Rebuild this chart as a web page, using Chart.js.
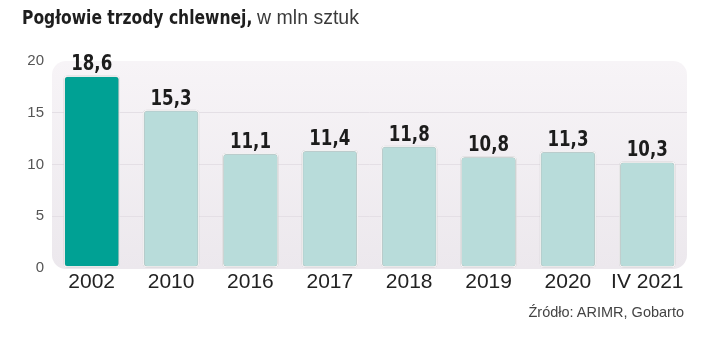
<!DOCTYPE html>
<html>
<head>
<meta charset="utf-8">
<script src="https://cdn.jsdelivr.net/npm/chart.js@4/dist/chart.umd.min.js"></script>
<style>
  html, body { margin: 0; padding: 0; background: #ffffff; }
  #wrap { position: relative; width: 720px; height: 337px; overflow: hidden; }
  #c { position: absolute; left: 0; top: 0; }
  #title { position: absolute; left: 22px; top: 6px; white-space: nowrap; }
  #title b { display: inline-block; font-family: "DejaVu Sans Condensed", "DejaVu Sans", sans-serif; font-weight: bold; font-size: 19px; color: #1e1e1e; transform: scaleX(0.91); transform-origin: left center; margin-right: -22px; }
  #title span { display: inline-block; font-family: "Liberation Sans", sans-serif; font-weight: normal; color: #3a3a3a; font-size: 19.5px; margin-left: 4px; }
  #source { position: absolute; right: 36px; top: 304px; font-family: "Liberation Sans", sans-serif; font-size: 14.5px; color: #444; white-space: nowrap; }
</style>
</head>
<body>
<div id="wrap">
  <canvas id="c" width="720" height="337"></canvas>
  <div id="title"><b>Pogłowie trzody chlewnej,</b><span>w mln sztuk</span></div>
  <div id="source">Źródło: ARIMR, Gobarto</div>
</div>
<script>
const categories = ['2002', '2010', '2016', '2017', '2018', '2019', '2020', 'IV 2021'];
const values = [18.6, 15.3, 11.1, 11.4, 11.8, 10.8, 11.3, 10.3];
const yTicks = [0, 5, 10, 15, 20];
const barColors = ['#00a194', '#b8dcda', '#b8dcda', '#b8dcda', '#b8dcda', '#b8dcda', '#b8dcda', '#b8dcda'];

const bgPlugin = {
  id: 'plotBg',
  beforeDraw(chart) {
    const { ctx, chartArea: a } = chart;
    ctx.save();
    const g = ctx.createLinearGradient(0, a.top, 0, a.bottom);
    g.addColorStop(0, '#f7f4f7');
    g.addColorStop(1, '#ece8ed');
    ctx.fillStyle = g;
    ctx.beginPath();
    ctx.roundRect(a.left, a.top, a.right - a.left, a.bottom - a.top + 1, 14);
    ctx.fill();
    ctx.restore();
  }
};

const shadowPlugin = {
  id: 'barShadow',
  beforeDatasetDraw(chart) {
    const ctx = chart.ctx;
    ctx.save();
    ctx.shadowColor = 'rgba(0,0,0,0.35)';
    ctx.shadowBlur = 2;
    ctx.shadowOffsetX = 0;
    ctx.shadowOffsetY = 0;
  },
  afterDatasetDraw(chart) {
    chart.ctx.restore();
  }
};

const labelPlugin = {
  id: 'valueLabels',
  afterDatasetsDraw(chart) {
    const { ctx } = chart;
    const meta = chart.getDatasetMeta(0);
    ctx.save();
    ctx.font = 'bold 22px "DejaVu Sans Condensed", "DejaVu Sans", sans-serif';
    ctx.fillStyle = '#1c1c1c';
    ctx.textAlign = 'center';
    ctx.textBaseline = 'alphabetic';
    meta.data.forEach((bar, i) => {
      const txt = values[i].toFixed(1).replace('.', ',');
      ctx.save();
      ctx.translate(bar.x, bar.y - 5);
      ctx.scale(0.84, 1);
      ctx.fillText(txt, 0, 0);
      ctx.restore();
    });
    ctx.restore();
  }
};

new Chart(document.getElementById('c'), {
  type: 'bar',
  data: {
    labels: categories,
    datasets: [{
      data: values,
      backgroundColor: barColors,
      borderColor: '#ffffff',
      borderWidth: 1.5,
      borderSkipped: false,
      borderRadius: 4,
      categoryPercentage: 1.0,
      barPercentage: 0.71
    }]
  },
  options: {
    responsive: false,
    animation: false,
    devicePixelRatio: 1,
    layout: { padding: { left: 0, right: 33, top: 61, bottom: 36 } },
    plugins: { legend: { display: false }, tooltip: { enabled: false }, title: { display: false } },
    scales: {
      x: {
        grid: { display: false, drawTicks: false },
        border: { display: false },
        ticks: {
          color: '#222222',
          font: { family: '"Liberation Sans", sans-serif', size: 21 },
          padding: 2,
          maxRotation: 0,
          autoSkip: false
        },
        afterFit(scale) { scale.height = 33; }
      },
      y: {
        min: 0,
        max: 20,
        afterBuildTicks(scale) { scale.ticks = yTicks.map(v => ({ value: v })); },
        grid: {
          color: (c) => (c.tick && (c.tick.value === 0 || c.tick.value === 20)) ? 'rgba(0,0,0,0)' : '#e4dfe5',
          drawTicks: false,
          lineWidth: 1
        },
        border: { display: false },
        ticks: {
          color: '#555555',
          font: { family: '"Liberation Sans", sans-serif', size: 15 },
          padding: 8
        },
        afterFit(scale) { scale.width = 52; }
      }
    }
  },
  plugins: [bgPlugin, shadowPlugin, labelPlugin]
});
</script>
</body>
</html>
